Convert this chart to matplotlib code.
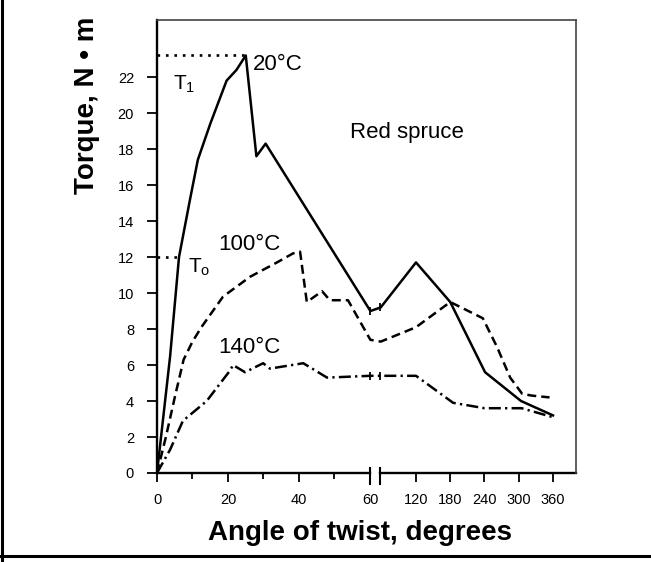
import matplotlib
matplotlib.use('Agg')
import matplotlib.pyplot as plt
import numpy as np
from matplotlib.lines import Line2D

plt.rcParams['font.family'] = ['Liberation Sans', 'DejaVu Sans']

# Torque vs angle of twist, red spruce
angle_20 = [0, 3.7, 6.2, 9.3, 11.5, 15, 19.6, 22.4, 25, 28, 30.6, 60.5, 74, 120, 180, 241, 304, 360]
torque_20 = [0, 6.5, 12, 15.2, 17.4, 19.4, 21.8, 22.4, 23.2, 17.6, 18.3, 9.0, 9.2, 11.7, 9.5, 5.6, 4.0, 3.2]

angle_100 = [0, 2.5, 5, 7.5, 10, 12.5, 18.6, 26.2, 33.8, 38.3, 40.3, 42.2, 46.5, 48.7, 53.8, 60.5, 74,
             120, 180, 237, 262, 285, 306, 323, 354]
torque_100 = [0, 2.0, 4.2, 6.3, 7.3, 8.1, 9.8, 10.9, 11.7, 12.2, 12.3, 9.5, 10.1, 9.6, 9.6, 7.4, 7.3,
              8.1, 9.5, 8.6, 7.0, 5.3, 4.4, 4.3, 4.2]

angle_140 = [0, 3.7, 7.3, 14, 20.6, 21.4, 24.8, 29.9, 31.8, 41.2, 47.9, 60, 120, 185, 240, 305, 360]
torque_140 = [0, 1.3, 2.9, 4.0, 5.7, 6.0, 5.6, 6.1, 5.8, 6.1, 5.3, 5.4, 5.4, 3.9, 3.6, 3.6, 3.1]

T1 = 23.2   # peak torque at 20 C
T0 = 12.0

x_ticks = [0, 20, 40, 60, 120, 180, 240, 300, 360]
x_minor = [10, 30, 50]
y_ticks = list(range(0, 23, 2))


# broken x axis: 0-60 is stretched, 60-360 compressed
def fwd(x):
    x = np.asarray(x, dtype=float)
    return np.where(x <= 60, x * 3.55,
                    np.where(x <= 120, 213 + (x - 60) / 60 * 46,
                             259 + (x - 120) / 60 * 34.25))


def inv(u):
    u = np.asarray(u, dtype=float)
    return np.where(u <= 213, u / 3.55,
                    np.where(u <= 259, 60 + (u - 213) / 46 * 60,
                             120 + (u - 259) / 34.25 * 60))


fig = plt.figure(figsize=(6.51, 5.62), dpi=100)
ax = fig.add_axes([157 / 651, 89 / 562, 419 / 651, 453 / 562])
ax.set_xscale('function', functions=(fwd, inv))
ax.set_xlim(0, 400.3)
ax.set_ylim(0, 25.17)

ax.plot(angle_20, torque_20, color='black', lw=1.8)
ax.plot(angle_100, torque_100, color='black', lw=1.8, ls=(0, (3.6, 2.0)))
ax.plot(angle_140, torque_140, color='black', lw=1.8, ls=(0, (4.8, 1.7, 0.9, 1.7)))

# T1 / T0 reference lines
ax.plot([0, 25], [T1, T1], color='black', lw=1.9, ls=(0, (1, 2.2)))
ax.plot([0, 6.2], [T0, T0], color='black', lw=1.9, ls=(0, (1, 2.2)))

# little break marks on the curves
ax.plot([60, 73], [9.0, 9.2], ls='none', marker='|', ms=6, mew=1.3, color='black')
ax.plot([60, 73], [5.4, 5.4], ls='none', marker='|', ms=6, mew=1.3, color='black')

# x axis drawn by hand with a break
ax.spines['bottom'].set_visible(False)
ax.plot([0, 60], [0, 0], color='black', lw=1.7, clip_on=False)
ax.plot([73, 400.3], [0, 0], color='black', lw=1.7, clip_on=False)
ax.plot([60, 60], [-0.6, 0.3], color='black', lw=1.5, clip_on=False)
ax.plot([73, 73], [-0.6, 0.3], color='black', lw=1.5, clip_on=False)

ax.spines['left'].set_linewidth(1.7)
for s in ['top', 'right']:
    ax.spines[s].set_linewidth(1.2)
    ax.spines[s].set_color('#444444')

ax.set_yticks(y_ticks)
ax.set_xticks(x_ticks)
ax.set_xticklabels([str(t) for t in x_ticks])
ax.set_xticks(x_minor, minor=True)
ax.tick_params(axis='y', direction='out', length=7.5, width=1.3, pad=9, labelsize=10.5)
ax.tick_params(axis='x', which='major', direction='out', length=6.5, width=1.3, pad=8, labelsize=10.5)
ax.tick_params(axis='x', which='minor', direction='out', length=4, width=1.3)

ax.text(27, 22.7, '20°C', fontsize=16, va='center', ha='left')
ax.text(54.4, 18.9, 'Red spruce', fontsize=16, va='center', ha='left')
ax.text(17.2, 12.7, '100°C', fontsize=16, va='center', ha='left')
ax.text(17.2, 7.0, '140°C', fontsize=16, va='center', ha='left')
ax.text(4.5, 21.6, r'$\mathregular{T_1}$', fontsize=15, va='center', ha='left')
ax.text(8.7, 11.4, r'$\mathregular{T_o}$', fontsize=15, va='center', ha='left')

fig.text(87 / 651, 1 - 105 / 562, 'Torque, N • m', rotation=90, ha='center', va='center',
         fontsize=20, fontweight='bold')
fig.text(360 / 651, 1 - 533 / 562, 'Angle of twist, degrees', ha='center', va='center',
         fontsize=20, fontweight='bold')

# frame lines of the scanned page
fig.add_artist(Line2D([1.5 / 651, 1.5 / 651], [0, 1], transform=fig.transFigure, color='black', lw=2.2))
fig.add_artist(Line2D([0, 1], [6 / 562, 6 / 562], transform=fig.transFigure, color='black', lw=2.2))

fig.savefig('out.png', dpi=100)
